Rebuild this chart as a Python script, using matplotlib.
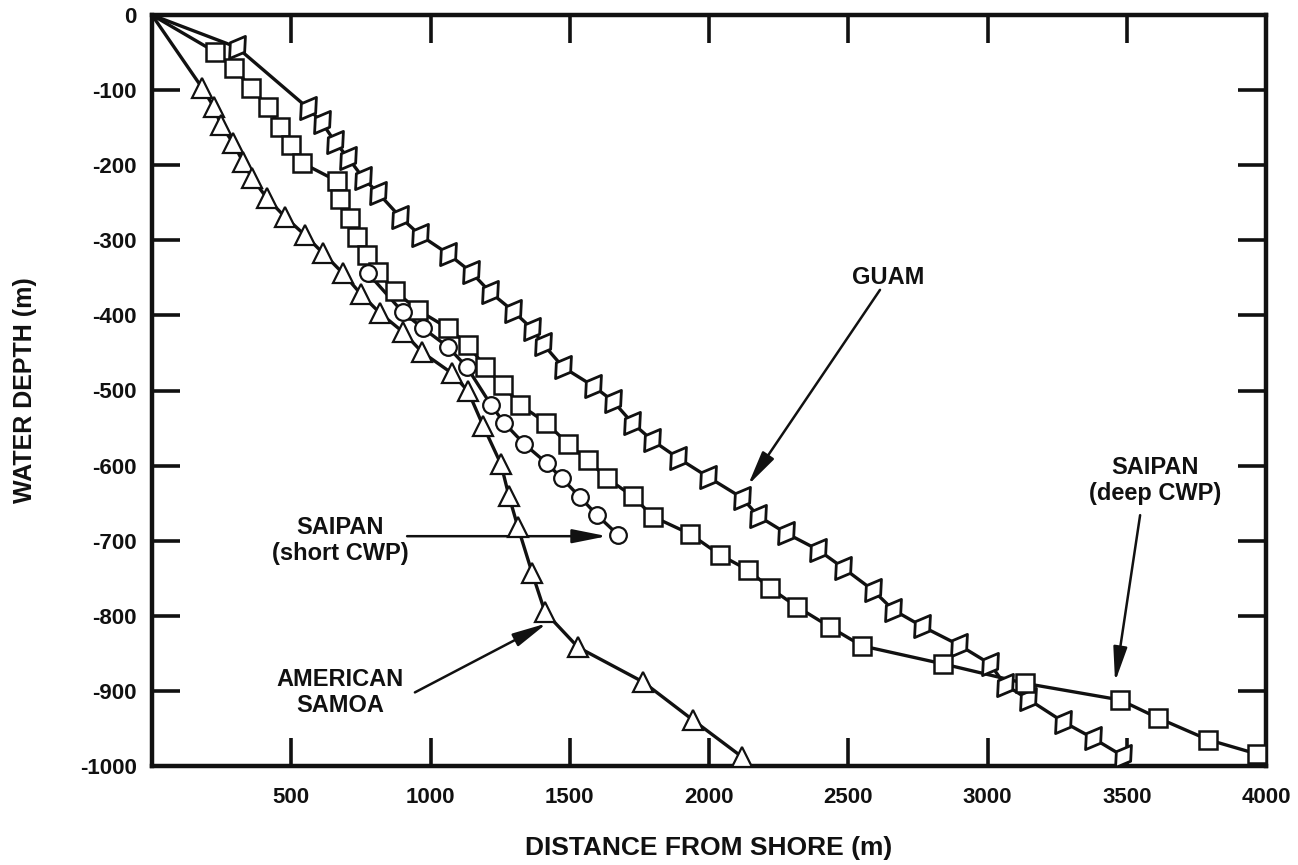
import numpy as np
import matplotlib
matplotlib.use("Agg")
import matplotlib.pyplot as plt
from matplotlib.path import Path

# ---- data (distance from shore [m], water depth [m]) ----
guam_x = [305, 560, 610, 657, 704, 758, 812, 891, 962, 1063, 1145, 1214, 1296, 1365,
          1404, 1476, 1584, 1655, 1724, 1795, 1889, 1996, 2119, 2176, 2277, 2391, 2481,
          2589, 2661, 2765, 2898, 3009, 3063, 3146, 3271, 3379, 3487]
guam_y = [-43, -124, -143, -169, -190, -217, -237, -269, -293, -318, -342, -369, -394, -418,
          -438, -469, -494, -514, -543, -566, -590, -615, -643, -667, -690, -712, -736,
          -766, -792, -814, -839, -864, -892, -911, -941, -963, -987]

deep_x = [226, 294, 356, 417, 460, 499, 539, 664, 675, 711, 736, 772, 812, 873, 955, 1063,
          1135, 1196, 1260, 1321, 1415, 1494, 1566, 1634, 1727, 1799, 1932, 2040, 2140,
          2219, 2316, 2435, 2549, 2840, 3135, 3476, 3612, 3792, 3968]
deep_y = [-49, -71, -97, -123, -149, -173, -197, -221, -245, -270, -296, -320, -342, -368,
          -393, -417, -439, -469, -493, -519, -543, -571, -593, -617, -641, -668, -691,
          -719, -739, -763, -788, -815, -840, -864, -890, -912, -936, -965, -984]

short_x = [776, 901, 973, 1063, 1131, 1217, 1264, 1336, 1418, 1472, 1537, 1598, 1673]
short_y = [-344, -396, -417, -442, -469, -519, -543, -571, -597, -617, -642, -666, -692]

samoa_x = [180, 223, 248, 291, 327, 359, 413, 478, 549, 614, 686, 751, 819, 901, 970,
           1077, 1135, 1189, 1253, 1282, 1314, 1365, 1411, 1530, 1763, 1943, 2119]
samoa_y = [-97, -123, -147, -170, -196, -217, -244, -269, -293, -317, -344, -372, -397,
           -422, -449, -477, -501, -547, -598, -641, -682, -743, -795, -842, -888, -939, -988]

x_ticks = [500, 1000, 1500, 2000, 2500, 3000, 3500, 4000]
y_ticks = [0, -100, -200, -300, -400, -500, -600, -700, -800, -900, -1000]

plt.rcParams['font.family'] = ['Liberation Sans', 'DejaVu Sans']
plt.rcParams['font.weight'] = 'bold'

fig = plt.figure(figsize=(12.98, 8.65), dpi=100)
ax = fig.add_axes([152/1298, 1-766/865, (1266-152)/1298, (766-15)/865])

ink = '#111111'
lw = 2.4

# custom skewed marker for Guam (square with spikes at top-right and bottom-left)
guam_marker = Path([(0.5, 0.7), (0.45, -0.3), (-0.5, -0.7), (-0.45, 0.3), (0.5, 0.7)],
                   [Path.MOVETO, Path.LINETO, Path.LINETO, Path.LINETO, Path.CLOSEPOLY])

# lines start at the shore (0, 0)
ax.plot([0] + guam_x, [0] + guam_y, color=ink, lw=lw, zorder=2)
ax.plot([0] + deep_x, [0] + deep_y, color=ink, lw=lw, zorder=2)
ax.plot([0] + samoa_x, [0] + samoa_y, color=ink, lw=lw, zorder=2)
ax.plot(short_x, short_y, color=ink, lw=lw, zorder=2)

ax.plot(guam_x, guam_y, ls='none', marker=guam_marker, ms=16, mfc='white', mec=ink, mew=2.0, zorder=3)
ax.plot(deep_x, deep_y, ls='none', marker='s', ms=12.5, mfc='white', mec=ink, mew=1.8, zorder=4)
ax.plot(short_x, short_y, ls='none', marker='o', ms=12, mfc='white', mec=ink, mew=1.6, zorder=5)
ax.plot(samoa_x, samoa_y, ls='none', marker='^', ms=14, mfc='white', mec=ink, mew=1.6, zorder=5)

ax.set_xlim(0, 4000)
ax.set_ylim(-1000, 0)
ax.set_xticks(x_ticks)
ax.set_xticklabels([str(v) for v in x_ticks])
ax.set_yticks(y_ticks)
ax.set_yticklabels([str(v) for v in y_ticks])
ax.tick_params(direction='in', length=20, width=2.6, top=True, right=True,
               labelsize=16, colors=ink)
ax.tick_params(axis='x', pad=15)
ax.tick_params(axis='y', pad=11)
for s in ax.spines.values():
    s.set_linewidth(3.2)
    s.set_color(ink)

ax.set_xlabel('DISTANCE FROM SHORE (m)', fontsize=19, fontweight='bold', labelpad=20, color=ink)
ax.set_ylabel('WATER DEPTH (m)', fontsize=18, fontweight='bold', labelpad=31, color=ink)

arrow_kw = dict(arrowstyle='-|>,head_length=1.4,head_width=0.28', lw=1.8, color=ink,
                mutation_scale=15, shrinkA=0, shrinkB=0)

ax.text(2643, -349, 'GUAM', ha='center', va='center', fontsize=17, fontweight='bold', color=ink)
ax.annotate('', xy=(2140, -626), xytext=(2614, -366), arrowprops=arrow_kw)

ax.text(3602, -620, 'SAIPAN\n(deep CWP)', ha='center', va='center', fontsize=17,
        fontweight='bold', color=ink, linespacing=1.15)
ax.annotate('', xy=(3458, -888), xytext=(3548, -666), arrowprops=arrow_kw)

ax.text(675, -700, 'SAIPAN\n(short CWP)', ha='center', va='center', fontsize=17,
        fontweight='bold', color=ink, linespacing=1.15)
ax.annotate('', xy=(1634, -694), xytext=(916, -694), arrowprops=arrow_kw)

ax.text(675, -902, 'AMERICAN\nSAMOA', ha='center', va='center', fontsize=17,
        fontweight='bold', color=ink, linespacing=1.15)
ax.annotate('', xy=(1418, -810), xytext=(944, -902), arrowprops=arrow_kw)

fig.savefig('out.png', dpi=100, facecolor='white')
